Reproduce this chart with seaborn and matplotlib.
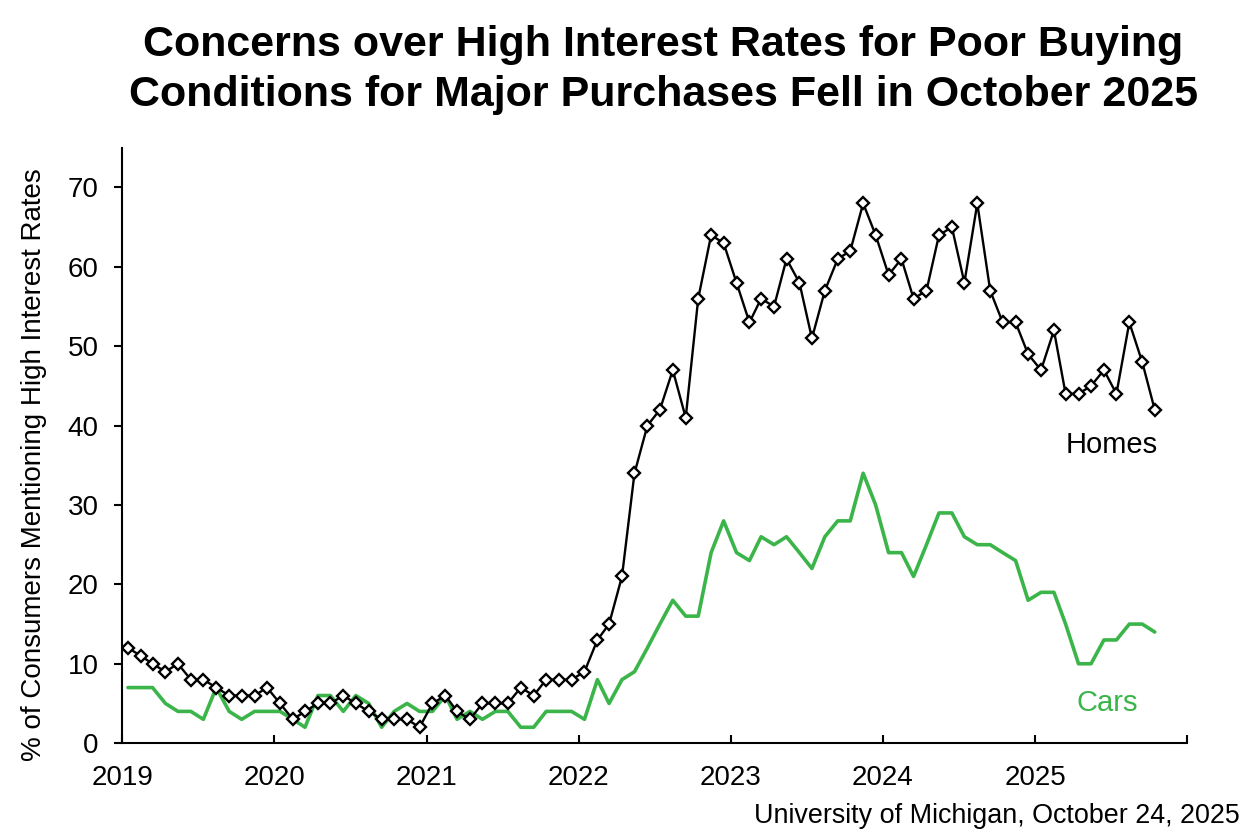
import pandas as pd
import matplotlib
matplotlib.use("Agg")
import matplotlib.pyplot as plt
import seaborn as sns

# monthly survey values, Jan 2019 - Oct 2025
homes = [12, 11, 10, 9, 10, 8, 8, 7, 6, 6, 6, 7,
         5, 3, 4, 5, 5, 6, 5, 4, 3, 3, 3, 2,
         5, 6, 4, 3, 5, 5, 5, 7, 6, 8, 8, 8,
         9, 13, 15, 21, 34, 40, 42, 47, 41, 56, 64, 63,
         58, 53, 56, 55, 61, 58, 51, 57, 61, 62, 68, 64,
         59, 61, 56, 57, 64, 65, 58, 68, 57, 53, 53, 49,
         47, 52, 44, 44, 45, 47, 44, 53, 48, 42]
cars = [7, 7, 7, 5, 4, 4, 3, 7, 4, 3, 4, 4,
        4, 3, 2, 6, 6, 4, 6, 5, 2, 4, 5, 4,
        4, 6, 3, 4, 3, 4, 4, 2, 2, 4, 4, 4,
        3, 8, 5, 8, 9, 12, 15, 18, 16, 16, 24, 28,
        24, 23, 26, 25, 26, 24, 22, 26, 28, 28, 34, 30,
        24, 24, 21, 25, 29, 29, 26, 25, 25, 24, 23, 18,
        19, 19, 15, 10, 10, 13, 13, 15, 15, 14]
years = [2019, 2020, 2021, 2022, 2023, 2024, 2025, 2026]
year_labels = ["2019", "2020", "2021", "2022", "2023", "2024", "2025", ""]

months = pd.date_range("2019-01-01", periods=len(homes), freq="MS") + pd.Timedelta(days=14)
df = pd.DataFrame({"date": months, "Homes": homes, "Cars": cars})

sns.set_style("white")
plt.rcParams['font.family'] = ['Liberation Sans', 'DejaVu Sans']
plt.rcParams['text.color'] = 'black'
plt.rcParams['axes.labelcolor'] = 'black'
plt.rcParams['xtick.color'] = 'black'
plt.rcParams['ytick.color'] = 'black'

green = "#3bb54a"

fig = plt.figure(figsize=(12.59, 8.35), dpi=100)
ax = fig.add_axes([0.097, 0.110, 0.846, 0.713])

sns.lineplot(x="date", y="Cars", data=df, color=green, linewidth=2.6, ax=ax)
sns.lineplot(x="date", y="Homes", data=df, color="black", linewidth=1.7,
             marker="D", markersize=5.8, markerfacecolor="white",
             markeredgecolor="black", markeredgewidth=1.7, ax=ax)

ax.set_xlim(pd.Timestamp("2019-01-01"), pd.Timestamp("2026-01-01"))
ax.set_ylim(0, 75)
ax.set_yticks(range(0, 71, 10))
ax.set_xticks([pd.Timestamp(f"{y}-01-01") for y in years])
ax.set_xticklabels(year_labels)

for s in ["top", "right"]:
    ax.spines[s].set_visible(False)
for s in ["left", "bottom"]:
    ax.spines[s].set_color("black")
    ax.spines[s].set_linewidth(1.5)

ax.tick_params(axis="x", direction="in", length=6, width=1.5, labelsize=20, pad=16, bottom=True)
ax.tick_params(axis="y", direction="out", length=6, width=1.5, labelsize=20, pad=11, left=True)

ax.set_xlabel("")
ax.set_ylabel("% of Consumers Mentioning High Interest Rates", fontsize=20)
ax.yaxis.set_label_coords(-0.0704, 0.467)

ax.text(pd.Timestamp("2025-07-03"), 37.5, "Homes", fontsize=21, color="black", ha="center", va="center")
ax.text(pd.Timestamp("2025-06-22"), 5, "Cars", fontsize=21, color=green, ha="center", va="center")

fig.text(0.527, 0.916, "Concerns over High Interest Rates for Poor Buying\nConditions for Major Purchases Fell in October 2025",
         fontsize=31, fontweight="bold", ha="center", va="center", linespacing=1.33)
fig.text(0.985, 0.023, "University of Michigan, October 24, 2025", fontsize=19.4, ha="right", va="center")

fig.savefig("out.png", dpi=100)
